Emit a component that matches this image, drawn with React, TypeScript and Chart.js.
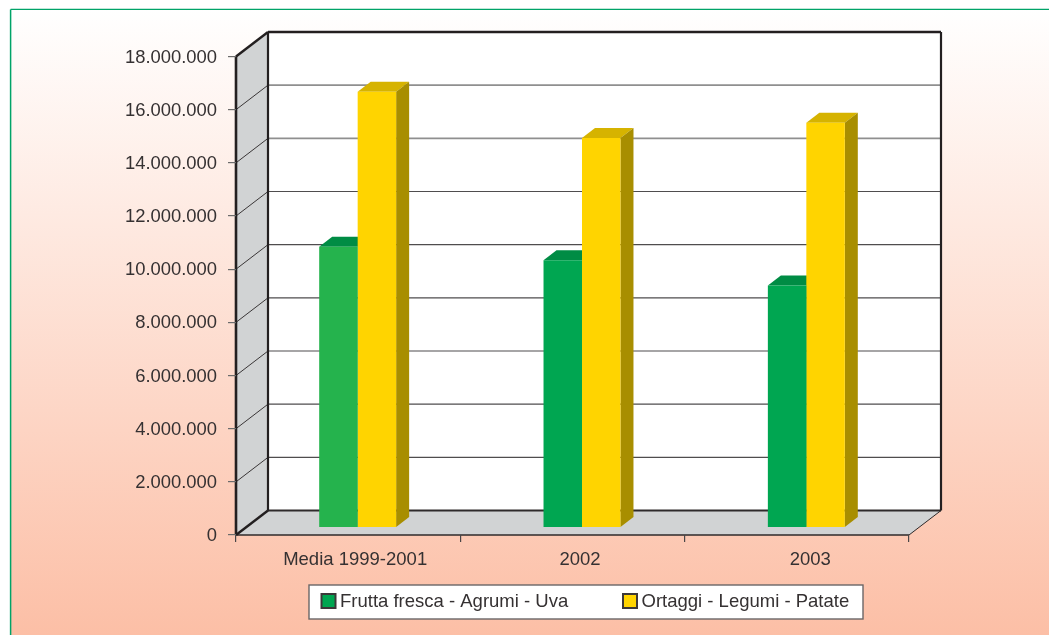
import React, { useEffect, useRef } from "react";
import { Chart, registerables } from "chart.js";

Chart.register(...registerables);

const categories = ["Media 1999-2001", "2002", "2003"];
const fruitLabel = "Frutta fresca - Agrumi - Uva";
const vegLabel = "Ortaggi - Legumi - Patate";
const fruitValues = [10570000, 10060000, 9110000];
const vegValues = [16400000, 14660000, 15230000];
const fruitColors = ["#25b34d", "#00a651", "#00a651"];
const vegColors = ["#ffd400", "#ffd400", "#ffd400"];
const gridValues = [2000000, 4000000, 6000000, 8000000, 10000000, 12000000, 14000000, 16000000];

const FONT = '"Liberation Sans", Arial, sans-serif';
const INK = "#353132";
const WALL_DX = 32;
const WALL_DY = 24.5;
const BAR_DX = 9.5;
const BAR_DY = 7.3;
const BAR_DEPTH_X = 13;
const BAR_DEPTH_Y = 10;
const X_LABEL_NUDGE = [7, 7.5, 13.5];
const Y_LABEL_NUDGE = 1;

function poly(ctx: CanvasRenderingContext2D, pts: number[][], fill: string) {
  ctx.beginPath();
  pts.forEach(([x, y], i) => (i ? ctx.lineTo(x, y) : ctx.moveTo(x, y)));
  ctx.closePath();
  ctx.fillStyle = fill;
  ctx.fill();
}

function seg(ctx: CanvasRenderingContext2D, x1: number, y1: number, x2: number, y2: number, color: string, w: number) {
  ctx.beginPath();
  ctx.moveTo(x1, y1);
  ctx.lineTo(x2, y2);
  ctx.strokeStyle = color;
  ctx.lineWidth = w;
  ctx.stroke();
}

const scenePlugin = {
  id: "scene",
  beforeDraw(chart: any) {
    const { ctx, width, height, chartArea: a, scales } = chart;
    const y = scales.y;
    const fx = 10.6;
    const fy = 9.4;

    scales.x.getLabelItems().forEach((item: any, i: number) => {
      if (!item.nudged) {
        item.options.translation[0] += X_LABEL_NUDGE[i];
        item.nudged = true;
      }
    });
    y.getLabelItems().forEach((item: any) => {
      if (!item.nudged) {
        item.options.translation[1] += Y_LABEL_NUDGE;
        item.nudged = true;
      }
    });

    ctx.save();
    ctx.fillStyle = "#ffffff";
    ctx.fillRect(0, 0, width, height);
    const g = ctx.createLinearGradient(0, fy, 0, height);
    g.addColorStop(0, "#ffffff");
    g.addColorStop(1, "#fcbfa6");
    ctx.fillStyle = g;
    ctx.fillRect(fx, fy, width - fx, height - fy);
    seg(ctx, fx, height, fx, fy, "#00a368", 1.5);
    seg(ctx, fx, fy, width, fy, "#00a368", 1.4);

    const l = a.left, r = a.right, t = a.top, b = a.bottom;
    const dx = WALL_DX, dy = WALL_DY;
    poly(ctx, [[l + dx, t - dy], [r + dx, t - dy], [r + dx, b - dy], [l + dx, b - dy]], "#ffffff");
    poly(ctx, [[l, b], [l + dx, b - dy], [l + dx, t - dy], [l, t]], "#d1d3d4");
    poly(ctx, [[l, b], [l + dx, b - dy], [r + dx, b - dy], [r, b]], "#d1d3d4");

    gridValues.forEach((v) => {
      const py = y.getPixelForValue(v);
      seg(ctx, l, py, l + dx, py - dy, "#3a3637", 1);
      const upper = v >= 14000000;
      seg(ctx, l + dx, py - dy, r + dx, py - dy, upper ? "#8f8f8f" : "#4f4d4e", upper ? 1.6 : 1.2);
    });
    seg(ctx, l + dx, b - dy, r + dx, b - dy, "#2e2a2b", 2);
    seg(ctx, r + dx, b - dy, r, b, "#2e2a2b", 1);
    seg(ctx, l, b, r, b, "#2e2a2b", 1.3);
    seg(ctx, l + dx, t - dy, r + dx, t - dy, "#231f20", 2.4);
    seg(ctx, r + dx, t - dy, r + dx, b - dy, "#231f20", 2.2);
    seg(ctx, l + dx, t - dy, l + dx, b - dy, "#231f20", 2.2);
    seg(ctx, l, t, l, b, "#231f20", 2.6);
    seg(ctx, l, t, l + dx, t - dy, "#231f20", 2.4);
    seg(ctx, l, b, l + dx, b - dy, "#231f20", 2.4);
    ctx.restore();
  },
  beforeDatasetsDraw(chart: any) {
    const { ctx } = chart;
    ctx.save();
    ctx.translate(BAR_DX, -BAR_DY);
    const dx = BAR_DEPTH_X, dy = BAR_DEPTH_Y;
    const tops = [["#008c44", "#00803e"], ["#d6b300", "#a88e00"]];
    [0, 1].forEach((i) => {
      chart.getDatasetMeta(i).data.forEach((bar: any) => {
        const { x, y, base, width } = bar.getProps(["x", "y", "base", "width"], true);
        const x0 = x - width / 2, x1 = x + width / 2;
        poly(ctx, [[x0, y], [x0 + dx, y - dy], [x1 + dx, y - dy], [x1, y]], tops[i][0]);
        poly(ctx, [[x1, y], [x1 + dx, y - dy], [x1 + dx, base - dy], [x1, base]], tops[i][1]);
      });
    });
  },
  afterDatasetsDraw(chart: any) {
    chart.ctx.restore();
  },
  afterDraw(chart: any) {
    const { ctx } = chart;
    ctx.save();
    ctx.fillStyle = "#ffffff";
    ctx.fillRect(309, 585, 554, 34);
    ctx.strokeStyle = "#6a6667";
    ctx.lineWidth = 1.4;
    ctx.strokeRect(309, 585, 554, 34);
    ctx.font = `18.5px ${FONT}`;
    ctx.textBaseline = "middle";
    ctx.textAlign = "left";
    const items = [
      { label: chart.data.datasets[0].label, color: "#00a651", x: 321.5 },
      { label: chart.data.datasets[1].label, color: "#ffd400", x: 623 },
    ];
    items.forEach(({ label, color, x }) => {
      ctx.fillStyle = color;
      ctx.fillRect(x, 594, 14, 14);
      ctx.strokeStyle = "#3c3839";
      ctx.lineWidth = 2;
      ctx.strokeRect(x, 594, 14, 14);
      ctx.fillStyle = INK;
      ctx.fillText(label, x + 18.5, 602);
    });
    ctx.restore();
  },
};

export default function App() {
  const ref = useRef<HTMLCanvasElement | null>(null);
  useEffect(() => {
    if (!ref.current) return;
    const chart = new Chart(ref.current, {
      type: "bar",
      data: {
        labels: categories,
        datasets: [
          { label: fruitLabel, data: fruitValues, backgroundColor: fruitColors, borderWidth: 0, clip: false as any },
          { label: vegLabel, data: vegValues, backgroundColor: vegColors, borderWidth: 0, clip: false as any },
        ],
      },
      options: {
        responsive: false,
        animation: false,
        layout: { padding: { left: 0, top: 56.5, right: 140, bottom: 0 } },
        datasets: { bar: { categoryPercentage: 0.343, barPercentage: 1 } },
        plugins: { legend: { display: false }, tooltip: { enabled: false }, title: { display: false } },
        scales: {
          x: {
            border: { display: false },
            grid: { drawOnChartArea: false, drawTicks: true, tickLength: 7, color: "#4a4647", lineWidth: 1.2 },
            ticks: { color: INK, font: { family: FONT, size: 18.5 }, padding: 7, maxRotation: 0, autoSkip: false },
            afterFit: (s: any) => { s.height = 100; },
          },
          y: {
            min: 0,
            max: 18000000,
            border: { display: false },
            grid: { drawOnChartArea: false, drawTicks: true, tickLength: 8, color: "#6b6b6b", lineWidth: 1.2 },
            ticks: {
              stepSize: 2000000,
              color: INK,
              padding: 11,
              font: { family: FONT, size: 18.4 },
              callback: (v: any) => String(v).replace(/\B(?=(\d{3})+(?!\d))/g, "."),
            },
            afterFit: (s: any) => { s.width = 236; },
          },
        },
      },
      plugins: [scenePlugin],
    });
    return () => chart.destroy();
  }, []);
  return (
    <canvas
      ref={ref}
      width={1049}
      height={635}
      style={{ position: "fixed", left: 0, top: 0, display: "block" }}
    />
  );
}
